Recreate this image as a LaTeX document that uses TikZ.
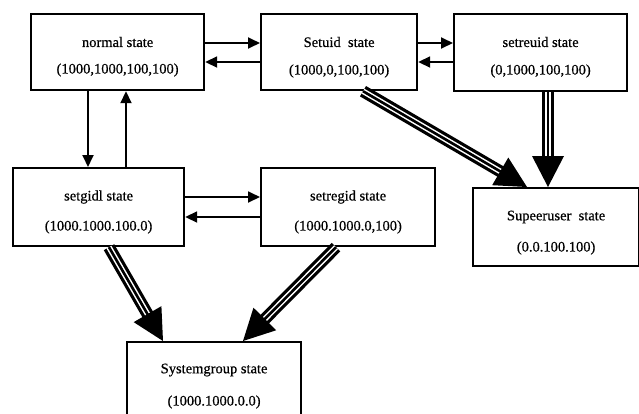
\documentclass[tikz,border=0pt]{standalone}
\usepackage{fontspec}
\setmainfont{Liberation Serif}
\newfontfamily\scanfont{Liberation Serif}[FakeBold=0.6]
\usetikzlibrary{calc,arrows.meta}
\tikzset{
  box/.style={draw, line width=2.2pt, fill=white, inner sep=0pt, anchor=north west},
  lbl/.style={font=\scanfont\fontsize{14.5}{16}\selectfont, inner sep=0pt},
  thinarrow/.style={line width=1.8pt, -{Triangle[length=12pt,width=11pt]}},
}
\newcommand{\fatarrow}[2]{%
  \draw[line width=12pt, shorten >=27pt] (#1) -- (#2);
  \draw[white, line width=1.5pt, double=black, double distance=2.6pt, shorten >=29pt] (#1) -- (#2);
  \coordinate (fatbase) at ($(#2)!31pt!(#1)$);
  \fill (#2) -- ($(fatbase)!16pt!90:(#2)$) -- ($(fatbase)!16pt!-90:(#2)$) -- cycle;
}
\begin{document}
\begin{tikzpicture}[x=1pt,y=-1pt]
\useasboundingbox (0,0) rectangle (639,413);
\clip (0,0) rectangle (639,413);

% boxes
\node[box, minimum width=173pt, minimum height=76pt] (normal)   at (30,13)  {};
\node[box, minimum width=156pt, minimum height=76pt] (setuid)   at (260,13) {};
\node[box, minimum width=173pt, minimum height=77pt] (setreuid) at (453,13) {};
\node[box, minimum width=171pt, minimum height=78pt] (setgidl)  at (12,167) {};
\node[box, minimum width=174pt, minimum height=78pt] (setregid) at (260,167) {};
\node[box, minimum width=166pt, minimum height=78pt] (super)    at (472,187) {};
\node[box, minimum width=174pt, minimum height=82pt] (sysg)     at (126,341) {};

% labels
\node[lbl] (normalA)   at ($(normal.north)+(0,29)$)   {normal state};
\node[lbl] (normalB)   at ($(normal.north)+(0,57)$)   {(1000,1000,100,100)};
\node[lbl] (setuidA)   at ($(setuid.north)+(0,29)$)   {Setuid\ \ state};
\node[lbl] (setuidB)   at ($(setuid.north)+(0,58)$)   {(1000,0,100,100)};
\node[lbl] (setreuidA) at ($(setreuid.north)+(0,29)$) {setreuid state};
\node[lbl] (setreuidB) at ($(setreuid.north)+(0,58)$) {(0,1000,100,100)};
\node[lbl] (setgidlA)  at ($(setgidl.north)+(0,30)$)  {setgidl state};
\node[lbl] (setgidlB)  at ($(setgidl.north)+(0,60)$)  {(1000.1000.100.0)};
\node[lbl] (setregidA) at ($(setregid.north)+(0,30)$) {setregid state};
\node[lbl] (setregidB) at ($(setregid.north)+(0,60)$) {(1000.1000.0,100)};
\node[lbl] (superA)    at ($(super.north)+(0,30)$)    {Supeeruser\ \ state};
\node[lbl] (superB)    at ($(super.north)+(0,61)$)    {(0.0.100.100)};
\node[lbl] (sysgA)     at ($(sysg.north)+(0,29)$)     {Systemgroup state};
\node[lbl] (sysgB)     at ($(sysg.north)+(0,61)$)     {(1000.1000.0.0)};

% thin arrows
\coordinate (v1s) at ($(normal.south west)+(58,0)$);
\coordinate (v2s) at ($(normal.south west)+(96,0)$);
\draw[thinarrow] ($(normal.north east)+(0,30)$) -- ($(setuid.north west)+(0,30)$);
\draw[thinarrow] ($(setuid.north west)+(0,49)$) -- ($(normal.north east)+(0,49)$);
\draw[thinarrow] ($(setuid.north east)+(0,30)$) -- ($(setreuid.north west)+(0,30)$);
\draw[thinarrow] ($(setreuid.north west)+(0,49)$) -- ($(setuid.north east)+(0,49)$);
\draw[thinarrow] (v1s) -- (v1s |- setgidl.north);
\draw[thinarrow] (v2s |- setgidl.north) -- (v2s);
\draw[thinarrow] ($(setgidl.north east)+(0,30)$) -- ($(setregid.north west)+(0,30)$);
\draw[thinarrow] ($(setregid.north west)+(0,50)$) -- ($(setgidl.north east)+(0,50)$);

% thick triple arrows
\coordinate (f1s) at ($(setuid.south west)+(103,0)$);
\coordinate (f1t) at ($(super.north west)+(55,0)$);
\coordinate (f2s) at ($(setreuid.south west)+(95,0)$);
\coordinate (f2t) at (f2s |- super.north);
\coordinate (f3s) at ($(setgidl.south west)+(97,0)$);
\coordinate (f3t) at ($(sysg.north west)+(37,0)$);
\coordinate (f4s) at ($(setregid.south west)+(76,0)$);
\coordinate (f4t) at ($(sysg.north west)+(117,0)$);
\fatarrow{f1s}{f1t}
\fatarrow{f2s}{f2t}
\fatarrow{f3s}{f3t}
\fatarrow{f4s}{f4t}
\end{tikzpicture}
\end{document}
